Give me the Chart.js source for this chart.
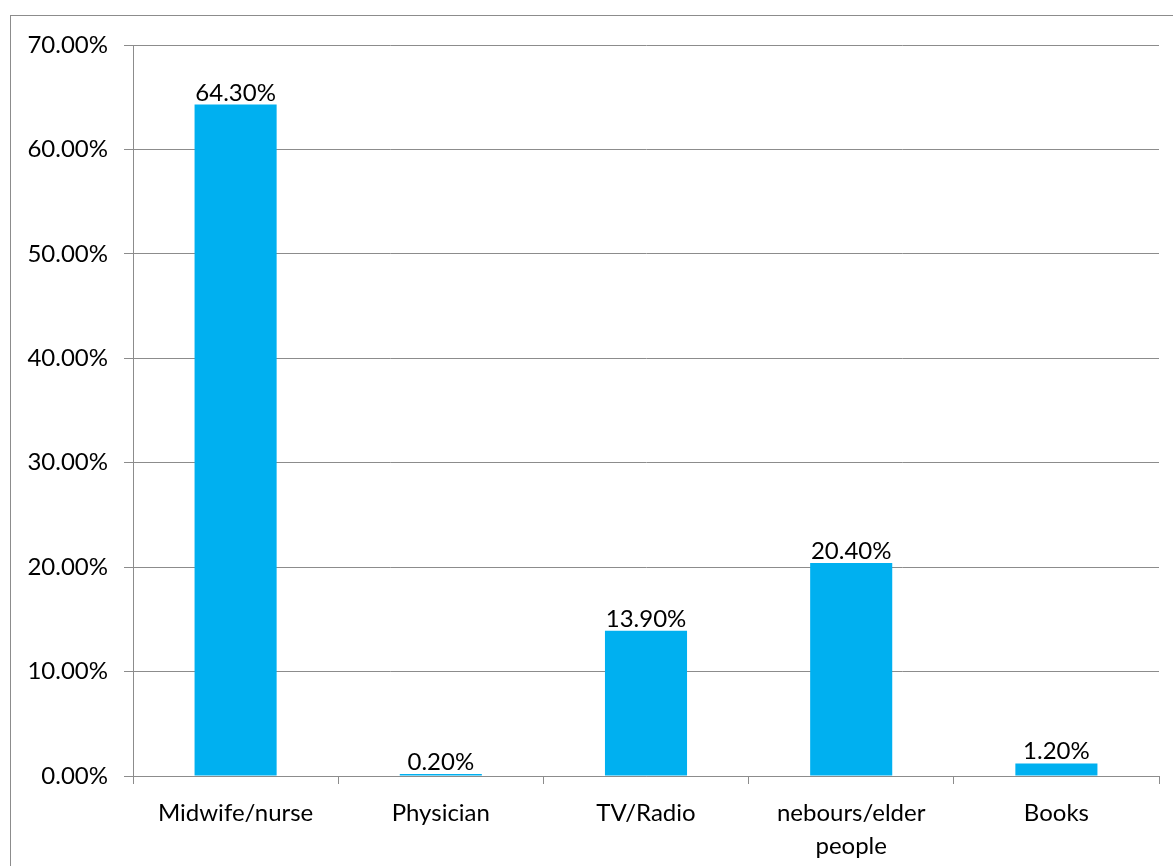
<!DOCTYPE html>
<html>
<head>
<meta charset="utf-8">
<script src="https://cdn.jsdelivr.net/npm/chart.js@4"></script>
<style>
    html, body { margin: 0; padding: 0; background: #fff; }
    #wrap { position: relative; width: 1173px; height: 866px; }
    #frame { position: absolute; left: 10px; top: 15px; width: 1170px; height: 870px; border: 1px solid #8c8c8c; box-sizing: border-box; }
    canvas { position: absolute; left: 0; top: 0; }
</style>
</head>
<body>
<div id="wrap">
    <div id="frame"></div>
    <canvas id="chart" width="1173" height="866"></canvas>
</div>
<script>
const categories = ["Midwife/nurse", "Physician", "TV/Radio", ["nebours/elder", "people"], "Books"];
const values = [64.3, 0.2, 13.9, 20.4, 1.2];
const yTicks = [0, 10, 20, 30, 40, 50, 60, 70];

const fontFamily = "Lato, 'Open Sans', sans-serif";

// value labels sitting just above each bar
const barLabels = {
    id: "barLabels",
    afterDatasetsDraw(chart) {
        const ctx = chart.ctx;
        const meta = chart.getDatasetMeta(0);
        ctx.save();
        ctx.font = "24px " + fontFamily;
        ctx.fillStyle = "#000";
        ctx.textAlign = "center";
        ctx.textBaseline = "alphabetic";
        meta.data.forEach((bar, i) => {
            ctx.fillText(values[i].toFixed(2) + "%", bar.x, bar.y - 4);
        });
        ctx.restore();
    }
};

new Chart(document.getElementById("chart").getContext("2d"), {
    type: "bar",
    data: {
        labels: categories,
        datasets: [{
            data: values,
            backgroundColor: "#00b0f0",
            categoryPercentage: 0.4,
            barPercentage: 1
        }]
    },
    options: {
        responsive: false,
        animation: false,
        layout: { padding: { top: 45, right: 14, left: 0, bottom: 0 } },
        plugins: {
            legend: { display: false },
            tooltip: { enabled: false }
        },
        scales: {
            x: {
                afterFit: s => { s.height = 90; },
                grid: {
                    offset: true,
                    drawOnChartArea: false,
                    color: "#8c8c8c",
                    tickLength: 8
                },
                border: { color: "#8c8c8c", width: 1 },
                ticks: {
                    color: "#000",
                    padding: 12,
                    font: { family: fontFamily, size: 24, lineHeight: 1.4 },
                    maxRotation: 0
                }
            },
            y: {
                min: 0,
                max: 70,
                afterFit: s => { s.width = 133; },
                afterBuildTicks: s => { s.ticks = yTicks.map(v => ({ value: v })); },
                grid: { color: "#8c8c8c", tickLength: 9 },
                border: { color: "#8c8c8c", width: 1 },
                ticks: {
                    color: "#000",
                    padding: 16,
                    font: { family: fontFamily, size: 24 },
                    callback: v => v.toFixed(2) + "%"
                }
            }
        }
    },
    plugins: [barLabels]
});
</script>
</body>
</html>
